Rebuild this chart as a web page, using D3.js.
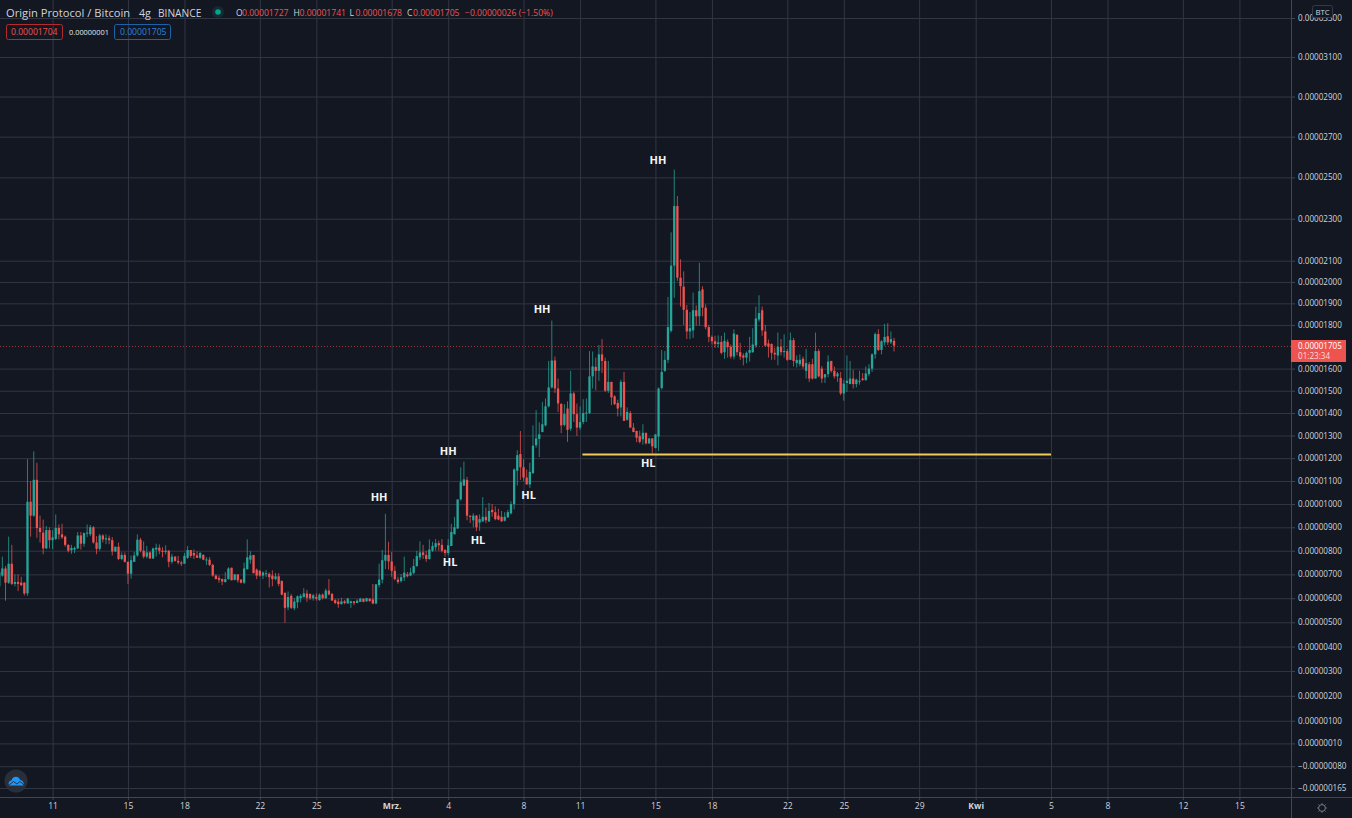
<!DOCTYPE html>
<html>
<head>
<meta charset="utf-8">
<script src="https://cdn.jsdelivr.net/npm/d3@7"></script>
<style>
html, body { margin: 0; padding: 0; background: #131722; overflow: hidden; }
svg { display: block; font-family: "Open Sans", sans-serif; }
</style>
</head>
<body>
<script>
var canvasWidth = 1352;
var canvasHeight = 818;
var AXIS_X = 1291;
var AXIS_Y = 797;
var UP = "#26a69a";
var DOWN = "#ef5350";
var GRID = "#323643";

// prices are in units of 0.00000001 BTC, one candle every 4 hours
var firstCandle = new Date(Date.UTC(2021, 1, 8, 4));

var opens = [
  650,695,725,665,745,660,668,665,665,620,
  1010,950,1105,897,877,810,888,845,850,897,
  870,860,825,802,805,810,865,830,875,870,
  900,835,808,865,848,853,845,797,817,765,
  782,753,703,753,780,847,800,775,793,767,
  805,813,800,795,800,753,775,757,750,745,
  770,803,790,780,770,782,760,762,740,695,
  685,680,668,680,728,677,700,678,665,722,
  762,782,720,715,695,702,702,695,680,692,
  672,622,562,610,558,583,600,605,620,618,
  600,605,592,615,600,632,618,592,586,575,
  587,578,580,587,580,585,598,587,598,595,
  578,655,678,758,782,755,715,678,672,687,
  700,695,706,735,772,793,782,765,800,815,
  832,825,803,790,820,870,895,1020,1080,1105,
  950,930,950,920,925,945,925,975,965,950,
  945,928,943,960,1000,1145,1218,1160,1115,1085,
  1135,1257,1285,1315,1345,1430,1515,1637,1510,1440,
  1347,1420,1330,1488,1395,1335,1360,1400,1400,1565,
  1608,1590,1665,1635,1500,1540,1475,1445,1425,1540,
  1370,1400,1335,1320,1297,1283,1312,1265,1287,1245,
  1295,1512,1590,1640,1773,2077,2361,2020,1978,1870,
  1770,1775,1868,1840,1965,1880,1790,1745,1725,1712,
  1722,1675,1722,1700,1655,1755,1675,1660,1650,1672,
  1675,1705,1825,1868,1770,1715,1712,1672,1660,1700,
  1675,1680,1640,1730,1625,1620,1645,1590,1620,1620,
  1555,1680,1600,1560,1575,1635,1590,1565,1558,1488,
  1535,1530,1555,1530,1540,1555,1548,1575,1600,1665,
  1758,1685,1720,1748,1720,1727
];

var highs = [
  770,775,735,860,825,700,700,690,668,1195,
  1100,1230,1180,950,933,905,900,888,955,912,
  915,865,827,825,818,880,880,878,912,910,
  905,862,872,870,870,865,858,817,835,793,
  793,755,780,795,870,855,840,820,797,813,
  830,827,815,823,803,787,777,778,757,790,
  820,803,805,797,795,785,773,773,745,700,
  695,683,710,730,728,702,700,680,750,848,
  798,782,725,718,712,718,708,717,706,705,
  675,625,628,618,600,612,618,642,635,620,
  618,620,620,620,640,680,622,598,598,602,
  593,602,590,588,596,602,598,602,600,660,
  660,745,803,958,838,795,735,690,702,775,
  710,728,765,800,840,825,800,848,838,850,
  843,850,807,850,915,945,1020,1160,1185,1118,
  950,960,953,955,1030,985,1005,1000,990,980,
  970,965,975,1012,1155,1235,1320,1195,1150,1180,
  1345,1413,1358,1450,1465,1635,1820,1655,1555,1445,
  1440,1452,1590,1495,1442,1430,1462,1465,1680,1678,
  1650,1708,1735,1650,1635,1540,1480,1460,1550,1585,
  1425,1410,1355,1322,1322,1350,1312,1290,1288,1305,
  1515,1685,1680,1930,2235,2538,2410,2107,2050,1892,
  1860,1950,1890,2090,1980,1895,1800,1752,1750,1752,
  1750,1765,1733,1710,1780,1755,1718,1670,1678,1745,
  1785,1885,1938,1885,1800,1733,1715,1695,1765,1735,
  1757,1690,1765,1740,1660,1665,1655,1690,1630,1645,
  1765,1690,1612,1575,1660,1635,1610,1585,1585,1550,
  1660,1635,1595,1555,1590,1580,1610,1620,1670,1765,
  1780,1730,1805,1808,1770,1741
];

var lows = [
  640,690,590,660,655,650,630,650,612,610,
  860,945,855,835,785,807,810,807,845,848,
  850,817,793,787,790,807,805,817,858,862,
  830,785,800,835,828,828,780,795,760,760,
  750,660,682,752,775,793,767,768,767,765,
  775,785,772,785,730,745,753,742,735,745,
  765,770,765,770,765,760,740,735,690,680,
  665,655,665,678,675,675,665,662,660,720,
  745,705,680,690,680,688,645,650,675,650,
  612,498,550,555,550,558,582,603,585,593,
  590,590,590,595,598,612,590,575,560,575,
  575,578,560,571,580,585,583,585,585,575,
  575,645,662,722,720,690,675,660,665,672,
  687,692,700,732,760,765,753,762,795,800,
  800,793,775,780,820,870,893,1015,1080,930,
  918,900,883,885,925,918,923,945,930,930,
  925,925,940,955,977,1080,1105,1100,1085,1070,
  1130,1246,1205,1315,1340,1425,1510,1490,1405,1310,
  1340,1272,1320,1360,1298,1325,1350,1360,1395,1510,
  1502,1545,1580,1495,1490,1435,1435,1385,1385,1365,
  1365,1335,1315,1270,1265,1260,1260,1262,1220,1243,
  1230,1505,1585,1625,1765,1926,2005,1885,1800,1735,
  1735,1740,1797,1797,1840,1780,1720,1710,1695,1695,
  1665,1645,1650,1645,1642,1660,1640,1615,1625,1632,
  1672,1695,1815,1750,1700,1650,1640,1640,1615,1660,
  1650,1635,1640,1610,1605,1610,1600,1555,1540,1550,
  1555,1560,1535,1535,1560,1582,1555,1540,1480,1455,
  1495,1530,1510,1515,1527,1545,1545,1565,1585,1645,
  1680,1665,1705,1708,1712,1678
];

var closes = [
  710,725,665,745,660,668,660,655,620,1010,
  950,1105,897,880,810,888,845,857,897,870,
  857,825,800,812,812,865,830,875,877,900,
  835,808,865,848,853,845,797,817,765,782,
  753,703,760,780,847,800,775,793,767,810,
  813,800,795,800,753,775,757,750,745,778,
  803,778,780,770,790,762,763,740,695,680,
  677,670,680,725,675,700,675,665,725,772,
  780,705,695,695,708,705,688,680,692,660,
  615,560,605,560,586,608,610,620,602,600,
  612,598,615,600,632,616,590,580,575,587,
  580,598,587,580,590,598,585,600,588,578,
  658,678,760,782,755,715,680,668,688,707,
  692,708,735,777,793,782,765,805,820,832,
  823,800,790,823,880,900,1020,1095,1107,950,
  945,950,900,935,945,930,970,965,935,933,
  925,945,965,1000,1150,1213,1160,1115,1085,1140,
  1255,1287,1305,1350,1430,1515,1637,1510,1443,1345,
  1395,1325,1488,1395,1335,1360,1400,1402,1565,1610,
  1590,1665,1635,1500,1540,1470,1440,1420,1540,1365,
  1405,1335,1315,1290,1272,1312,1265,1287,1252,1305,
  1510,1585,1640,1790,2077,2361,2020,1980,1870,1770,
  1785,1868,1840,1957,1880,1790,1745,1725,1712,1720,
  1672,1727,1698,1655,1760,1675,1655,1650,1672,1685,
  1710,1830,1855,1775,1705,1700,1672,1665,1700,1675,
  1680,1640,1730,1635,1640,1640,1610,1625,1555,1555,
  1680,1565,1555,1575,1632,1590,1565,1578,1488,1532,
  1545,1555,1530,1550,1545,1548,1578,1600,1665,1758,
  1685,1725,1745,1720,1735,1705
];

var priceTicks = [3300,3100,2900,2700,2500,2300,2100,2000,1900,1800,1600,1500,1400,
                  1300,1200,1100,1000,900,800,700,600,500,400,300,200,100,10,-80,-165];

var dateTicks = ["2021-02-11","2021-02-15","2021-02-18","2021-02-22","2021-02-25","2021-03-01",
                 "2021-03-04","2021-03-08","2021-03-11","2021-03-15","2021-03-18","2021-03-22",
                 "2021-03-25","2021-03-29","2021-04-01","2021-04-05","2021-04-08","2021-04-12",
                 "2021-04-15"].map(d => new Date(d));
var dateLabels = ["11","15","18","22","25","Mrz.","4","8","11","15","18","22","25","29","Kwi","5","8","12","15"];

// pattern labels: [candle index, price]
var markLabels = ["HH","HH","HH","HH","HL","HL","HL","HL"];
var markCandles = [121,143,172.9,209.8,143.6,152.5,168.6,206.7];
var markPrices = [1030,1230,1873,2585,752,843,1040,1177];

var supportPrice = 1216;
var supportStart = new Date("2021-03-11T03:00:00Z");
var supportEnd = new Date("2021-04-05T00:00:00Z");
var lastPrice = 1705;

// the price axis is a log scale with a shifted origin, it has to take negative values
var PRICE_SHIFT = 10730;
var yShifted = d3.scaleLog()
    .domain([3300 + PRICE_SHIFT, -165 + PRICE_SHIFT])
    .range([18, 788]);
var y = v => yShifted(v + PRICE_SHIFT);

var x = d3.scaleUtc()
    .domain([dateTicks[0], dateTicks[dateTicks.length - 1]])
    .range([52.6, 1239.4]);
var candleDate = i => new Date(firstCandle.getTime() + i * 4 * 3600 * 1000);

function priceText(v) {
    var s = (Math.abs(v) / 1e8).toFixed(8);
    return v < 0 ? "\u2212" + s : s;
}

var canvas = d3.select("body")
    .append("svg")
    .attr("width", canvasWidth)
    .attr("height", canvasHeight);

canvas.append("rect")
    .attr("width", canvasWidth)
    .attr("height", canvasHeight)
    .attr("fill", "#131722");

// grid
var gridY = canvas.append("g").call(
    d3.axisRight(yShifted)
        .tickValues(priceTicks.map(v => v + PRICE_SHIFT))
        .tickSize(AXIS_X)
        .tickFormat(""));
gridY.select(".domain").remove();
gridY.selectAll("line").attr("stroke", GRID);

var gridX = canvas.append("g").call(
    d3.axisBottom(x)
        .tickValues(dateTicks)
        .tickSize(AXIS_Y)
        .tickFormat(""));
gridX.select(".domain").remove();
gridX.selectAll("line").attr("stroke", GRID);

// last price line
canvas.append("line")
    .attr("x1", 0)
    .attr("x2", AXIS_X)
    .attr("y1", Math.round(y(lastPrice)) + 0.5)
    .attr("y2", Math.round(y(lastPrice)) + 0.5)
    .attr("stroke", DOWN)
    .attr("stroke-opacity", 0.6)
    .attr("stroke-dasharray", "1 2");

// candles
var candles = canvas.append("g")
    .selectAll("g")
    .data(opens.map((o, i) => i))
    .enter()
    .append("g");

candles.append("line")
    .attr("x1", i => x(candleDate(i)))
    .attr("x2", i => x(candleDate(i)))
    .attr("y1", i => y(highs[i]))
    .attr("y2", i => y(lows[i]))
    .attr("stroke", i => closes[i] >= opens[i] ? UP : DOWN)
    .attr("stroke-opacity", 0.75)
    .attr("stroke-width", 1);

candles.append("rect")
    .attr("x", i => x(candleDate(i)) - 1.15)
    .attr("width", 2.3)
    .attr("y", i => y(Math.max(opens[i], closes[i])))
    .attr("height", i => Math.max(1, y(Math.min(opens[i], closes[i])) - y(Math.max(opens[i], closes[i]))))
    .attr("fill", i => closes[i] >= opens[i] ? UP : DOWN);

// support line
canvas.append("line")
    .attr("x1", x(supportStart))
    .attr("x2", x(supportEnd))
    .attr("y1", y(supportPrice))
    .attr("y2", y(supportPrice))
    .attr("stroke", "#f0cb5a")
    .attr("stroke-width", 2);

// HH / HL labels
canvas.selectAll(".mark")
    .data(markLabels)
    .enter()
    .append("text")
    .attr("class", "mark")
    .attr("x", (d, i) => x(candleDate(markCandles[i])))
    .attr("y", (d, i) => y(markPrices[i]))
    .attr("dy", "0.35em")
    .attr("text-anchor", "middle")
    .attr("font-size", "11px")
    .attr("font-weight", "bold")
    .attr("fill", "#f5f5f5")
    .text(d => d);

// price axis
canvas.append("rect")
    .attr("x", AXIS_X)
    .attr("width", canvasWidth - AXIS_X)
    .attr("height", canvasHeight)
    .attr("fill", "#131722");

var axisY = canvas.append("g")
    .attr("transform", "translate(" + AXIS_X + ",0)")
    .call(d3.axisRight(yShifted)
        .tickValues(priceTicks.map(v => v + PRICE_SHIFT))
        .tickSize(4)
        .tickPadding(3)
        .tickFormat(d => priceText(Math.round(d - PRICE_SHIFT))));
axisY.select(".domain").remove();
axisY.selectAll("line").attr("stroke", "#434651");
axisY.selectAll("text")
    .attr("font-size", "8.1px")
    .attr("font-family", "Open Sans")
    .attr("fill", "#d1d4dc");

canvas.append("line")
    .attr("x1", AXIS_X + 0.5)
    .attr("x2", AXIS_X + 0.5)
    .attr("y1", 0)
    .attr("y2", canvasHeight)
    .attr("stroke", "#434651");

// time axis
canvas.append("rect")
    .attr("y", AXIS_Y)
    .attr("width", AXIS_X)
    .attr("height", canvasHeight - AXIS_Y)
    .attr("fill", "#131722");

var axisX = canvas.append("g")
    .attr("transform", "translate(0," + AXIS_Y + ")")
    .call(d3.axisBottom(x)
        .tickValues(dateTicks)
        .tickSize(3)
        .tickPadding(3)
        .tickFormat((d, i) => dateLabels[i]));
axisX.select(".domain").remove();
axisX.selectAll("line").attr("stroke", "#434651");
axisX.selectAll("text")
    .attr("font-size", "8.6px")
    .attr("font-family", "Open Sans")
    .attr("font-weight", (d, i) => isNaN(+dateLabels[i]) ? "bold" : "normal")
    .attr("fill", "#d1d4dc");

canvas.append("line")
    .attr("x1", 0)
    .attr("x2", canvasWidth)
    .attr("y1", AXIS_Y + 0.5)
    .attr("y2", AXIS_Y + 0.5)
    .attr("stroke", "#434651");

// header
function label(px, py, str, size, color, weight) {
    return canvas.append("text")
        .attr("x", px)
        .attr("y", py)
        .attr("font-size", size + "px")
        .attr("font-weight", weight || "normal")
        .attr("fill", color)
        .text(str);
}

label(6, 17, "Origin Protocol / Bitcoin", 11.2, "#d1d4dc");
label(139, 17, "4g", 10.6, "#d1d4dc");
label(158, 17, "BINANCE", 10.2, "#d1d4dc");

canvas.append("circle").attr("cx", 218).attr("cy", 12).attr("r", 6).attr("fill", "#26a69a").attr("fill-opacity", 0.14);
canvas.append("circle").attr("cx", 218).attr("cy", 12).attr("r", 2.8).attr("fill", "#00a58d");

var hdrOpen = opens[opens.length - 1];
var hdrHigh = highs[highs.length - 1];
var hdrLow = lows[lows.length - 1];
var hdrClose = closes[closes.length - 1];
var hdrX = [236, 293.5, 349.5, 407];
["O", "H", "L", "C"].forEach((k, i) => {
    var val = [hdrOpen, hdrHigh, hdrLow, hdrClose][i];
    label(hdrX[i], 16, k, 8.6, "#d1d4dc");
    label(hdrX[i] + 6, 16, priceText(val), 8.6, DOWN);
});
label(465, 16, priceText(hdrClose - 1731) + " (\u22121.50%)", 8.6, DOWN);

// bid / spread / ask boxes
canvas.append("rect").attr("x", 6.5).attr("y", 24.5).attr("width", 56).attr("height", 15).attr("rx", 2)
    .attr("fill", "none").attr("stroke", "#b52a2f");
label(11, 35, priceText(1704), 8.6, DOWN);
label(69, 35, priceText(1), 7.4, "#e8e9ee");
canvas.append("rect").attr("x", 114.5).attr("y", 24.5).attr("width", 56).attr("height", 15).attr("rx", 2)
    .attr("fill", "none").attr("stroke", "#1c62a8");
label(120, 35, priceText(1705), 8.6, "#2d84d8");

// last price tag
var tagY = Math.round(y(lastPrice));
canvas.append("rect")
    .attr("x", AXIS_X)
    .attr("y", tagY - 6)
    .attr("width", 55)
    .attr("height", 22)
    .attr("fill", DOWN);
label(1298, tagY + 3, priceText(lastPrice), 8.1, "#ffffff");
label(1298, tagY + 13, "01:23:34", 8.1, "#fbdcdc");

// currency box
canvas.append("rect").attr("x", 1312.5).attr("y", 5.5).attr("width", 20).attr("height", 12).attr("rx", 2)
    .attr("fill", "#131722").attr("stroke", "#363a45");
label(1315.5, 14.5, "BTC", 7.8, "#d1d4dc");

// settings icon
canvas.append("circle").attr("cx", 1322).attr("cy", 808).attr("r", 3.4)
    .attr("fill", "none").attr("stroke", "#787b86");
d3.range(0, 360, 45).forEach(a => {
    var r = a * Math.PI / 180;
    canvas.append("line")
        .attr("x1", 1322 + 3.4 * Math.cos(r)).attr("y1", 808 + 3.4 * Math.sin(r))
        .attr("x2", 1322 + 5 * Math.cos(r)).attr("y2", 808 + 5 * Math.sin(r))
        .attr("stroke", "#787b86").attr("stroke-width", 0.8);
});

// logo
canvas.append("circle").attr("cx", 16).attr("cy", 781).attr("r", 11.5).attr("fill", "#2a2e39");
canvas.append("path")
    .attr("d", "M9 785.5 C8 782.5 9.5 780.5 11.5 780.5 C12 778 14 776.5 16.5 776.8 C18.5 777 19.5 778.5 20 780 C22.5 780 24.5 782.5 23.5 785.5 Z")
    .attr("fill", "#2196f3");
canvas.append("path")
    .attr("d", "M9 785 L13.5 781.5 L17 784 L20 781.5 L24 785")
    .attr("fill", "none")
    .attr("stroke", "#2a2e39")
    .attr("stroke-width", 1);
</script>
</body>
</html>
